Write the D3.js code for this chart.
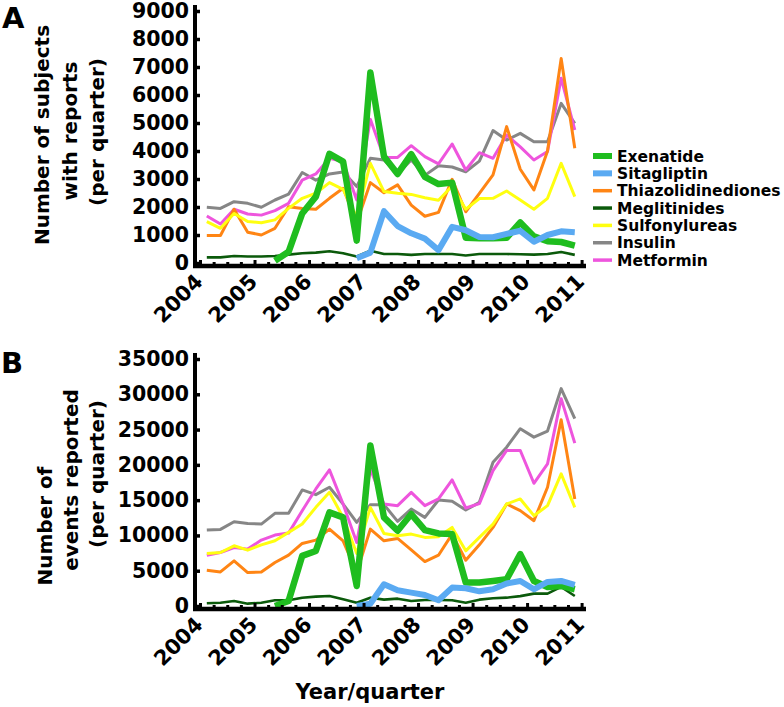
<!DOCTYPE html>
<html>
<head>
<meta charset="utf-8">
<script src="https://cdn.jsdelivr.net/npm/d3@7"></script>
<style>
  body { margin: 0; background: #fff; }
  svg { display: block; font-family: "DejaVu Sans", Verdana, sans-serif; font-weight: bold; }
</style>
</head>
<body>
<svg id="chart" width="784" height="707"></svg>
<script>
// ---------- data ----------
const quarters = ["2004Q1","2004Q2","2004Q3","2004Q4","2005Q1","2005Q2","2005Q3","2005Q4",
  "2006Q1","2006Q2","2006Q3","2006Q4","2007Q1","2007Q2","2007Q3","2007Q4",
  "2008Q1","2008Q2","2008Q3","2008Q4","2009Q1","2009Q2","2009Q3","2009Q4",
  "2010Q1","2010Q2","2010Q3","2010Q4"];
const yearTicks = [2004, 2005, 2006, 2007, 2008, 2009, 2010, 2011];
const seriesNames = ["Exenatide","Sitagliptin","Thiazolidinediones","Meglitinides","Sulfonylureas","Insulin","Metformin"];
const seriesColors = ["#1fbd1f","#5aaaf2","#ff8514","#0b5a0b","#ffff10","#868686","#ee55dd"];
const seriesWidths = [6.5, 6, 3, 2.6, 3, 3, 3];

// Panel A: number of subjects with reports per quarter
const subjExenatide = [null,null,null,null,null,80,400,1770,2370,3900,3620,800,6800,3800,3180,3890,3080,2820,2870,900,880,880,900,1450,950,780,750,620];
const subjSitagliptin = [null,null,null,null,null,null,null,null,null,null,null,170,370,1850,1320,1060,870,460,1290,1170,930,920,1040,1150,760,1000,1130,1100];
const subjThiazolidinediones = [980,980,1920,1100,1000,1240,2010,1950,1920,2310,2670,1440,2870,2510,2790,2070,1670,1810,2990,1830,2490,3150,4870,3350,2610,4000,7300,4100];
const subjMeglitinides = [200,200,250,230,230,250,300,350,370,420,350,230,440,320,320,290,320,320,320,270,320,320,320,310,300,320,390,290];
const subjSulfonylureas = [1480,1240,1770,1480,1440,1540,1950,2310,2490,2870,2630,1650,3560,2550,2490,2450,2330,2240,2750,1920,2300,2310,2570,2250,1920,2310,3560,2370];
const subjInsulin = [1990,1950,2190,2130,1990,2250,2460,3230,2960,3180,3250,2730,3740,3680,3180,3680,3130,3470,3430,3260,3640,4730,4390,4630,4330,4330,5700,4990];
const subjMetformin = [1680,1390,1920,1750,1710,1870,2130,2960,3180,3740,3620,2250,5130,3770,3770,4190,3800,3540,4250,3320,3940,3740,4570,4150,3680,3980,6600,4750];

// Panel B: number of events reported per quarter
const evExenatide = [null,null,null,null,null,0,700,7100,7800,13270,12560,2840,22750,12560,10660,13030,10760,10280,10190,3320,3320,3550,3790,7350,3550,2700,2840,2370];
const evSitagliptin = [null,null,null,null,null,null,null,null,null,null,null,0,330,3080,2230,1900,1560,810,2610,2510,2080,2370,3180,3550,2370,3410,3550,2990];
const evThiazolidinediones = [5070,4830,6400,4740,4830,6160,7200,8860,9340,10900,9240,4740,10900,9240,9570,7960,6300,7200,10190,6490,8670,11140,14450,13510,12090,16820,26400,15170];
const evMeglitinides = [380,470,710,330,470,810,810,1180,1330,1420,950,470,1180,900,1040,710,850,850,810,470,900,1090,1180,1400,1750,1750,2700,1420];
const evSulfonylureas = [7440,7580,8530,7910,8670,9240,10430,11610,13980,16110,12560,7440,13980,10280,9950,10190,9720,9810,11140,7820,9720,11610,14450,15170,12800,14220,18720,13980];
const evInsulin = [10760,10850,11940,11700,11610,13130,13130,16450,15780,16820,14450,11850,14360,14360,11990,13740,12560,15020,14830,13600,14690,20380,22510,25120,23930,24790,30800,26540];
const evMetformin = [7200,7580,8290,8060,9340,10050,10330,13510,16590,19290,14450,9000,19430,14450,14220,16110,14220,15170,17870,13890,14500,19190,22040,22040,17390,20140,29380,23080];

const yTicksA = [0,1000,2000,3000,4000,5000,6000,7000,8000,9000];
const yTicksB = [0,5000,10000,15000,20000,25000,30000,35000];

const panelAData = [subjExenatide, subjSitagliptin, subjThiazolidinediones, subjMeglitinides, subjSulfonylureas, subjInsulin, subjMetformin];
const panelBData = [evExenatide, evSitagliptin, evThiazolidinediones, evMeglitinides, evSulfonylureas, evInsulin, evMetformin];

// ---------- drawing ----------
const svg = d3.select("#chart");
const qToX = q => +q.slice(0,4) + (+q.slice(5) - 0.5) / 4;
const x = d3.scaleLinear().domain([2004, 2011]).range([200, 581.6]);
const quarterTicks = d3.range(2004, 2011.001, 0.25);
const drawOrder = [5, 6, 2, 4, 3, 0, 1];

function panel(opts) {
  const y = d3.scaleLinear().domain(opts.domain).range(opts.range);
  const g = svg.append("g");
  const axisY = opts.range[0] + 3;

  // lines
  const line = d3.line()
    .defined(d => d.v != null)
    .x(d => x(qToX(d.q)))
    .y(d => y(d.v));
  drawOrder.forEach(k => {
    const pts = quarters.map((q, i) => ({q: q, v: opts.data[k][i]}));
    g.append("path")
      .attr("d", line(pts))
      .attr("fill", "none")
      .attr("stroke", seriesColors[k])
      .attr("stroke-width", seriesWidths[k])
      .attr("stroke-linejoin", "round");
  });

  // y axis
  const ya = d3.axisLeft(y).tickValues(opts.ticks).tickSize(-5).tickPadding(6).tickFormat(d3.format("d"));
  const yg = g.append("g").attr("transform", "translate(195,0)").call(ya);
  yg.select(".domain").remove();
  yg.selectAll(".tick line").attr("stroke", "#000").attr("stroke-width", 3.5);
  yg.selectAll(".tick text").attr("font-size", 20.5).attr("font-family", "DejaVu Sans").attr("font-weight", "bold").attr("fill", "#000");
  g.append("line").attr("x1", 195).attr("x2", 195)
    .attr("y1", opts.range[1] - 6).attr("y2", axisY + 2)
    .attr("stroke", "#000").attr("stroke-width", 4);

  // x axis
  const xa = d3.axisBottom(x).tickValues(quarterTicks).tickSize(-4).tickFormat("");
  const xg = g.append("g").attr("transform", `translate(0,${axisY})`).call(xa);
  xg.select(".domain").remove();
  xg.selectAll(".tick line").attr("stroke", "#000").attr("stroke-width", 3)
    .attr("y2", d => Number.isInteger(d) ? -6 : -4);
  g.append("line").attr("x1", 193).attr("x2", 586)
    .attr("y1", axisY).attr("y2", axisY)
    .attr("stroke", "#000").attr("stroke-width", 4.5);

  // year labels
  yearTicks.forEach(yr => {
    g.append("text")
      .attr("transform", `translate(${x(yr) + 4},${axisY + 17}) rotate(-45)`)
      .attr("text-anchor", "end")
      .attr("font-size", 21)
      .text(yr);
  });

  // y title
  opts.title.forEach((t, i) => {
    g.append("text")
      .attr("transform", `translate(${t.x},${t.y}) rotate(-90)`)
      .attr("text-anchor", "middle")
      .attr("font-size", 20)
      .text(t.s);
  });

  // panel letter
  g.append("text").attr("x", opts.letter.x).attr("y", opts.letter.y)
    .attr("font-size", 29).text(opts.letter.s);
}

panel({
  domain: [0, 9000], range: [263, 11], ticks: yTicksA, data: panelAData,
  title: [{s: "Number of subjects", x: 49, y: 135}, {s: "with reports", x: 77, y: 131}, {s: "(per quarter)", x: 104, y: 132}],
  letter: {s: "A", x: 2, y: 28}
});
panel({
  domain: [0, 35000], range: [606, 359], ticks: yTicksB, data: panelBData,
  title: [{s: "Number of", x: 52, y: 526}, {s: "events reported", x: 78, y: 480}, {s: "(per quarter)", x: 104, y: 474}],
  letter: {s: "B", x: 1, y: 373}
});

// legend
const legend = svg.append("g");
seriesNames.forEach((name, i) => {
  const cy = 156 + i * 17.35;
  legend.append("line").attr("x1", 593).attr("x2", 612).attr("y1", cy).attr("y2", cy)
    .attr("stroke", seriesColors[i]).attr("stroke-width", i < 2 ? 6 : 3.5);
  legend.append("text").attr("x", 617).attr("y", cy + 5.5).attr("font-size", 15.5).text(name);
});

// x title
svg.append("text").attr("x", 370).attr("y", 699).attr("text-anchor", "middle")
  .attr("font-size", 21).text("Year/quarter");
</script>
</body>
</html>
